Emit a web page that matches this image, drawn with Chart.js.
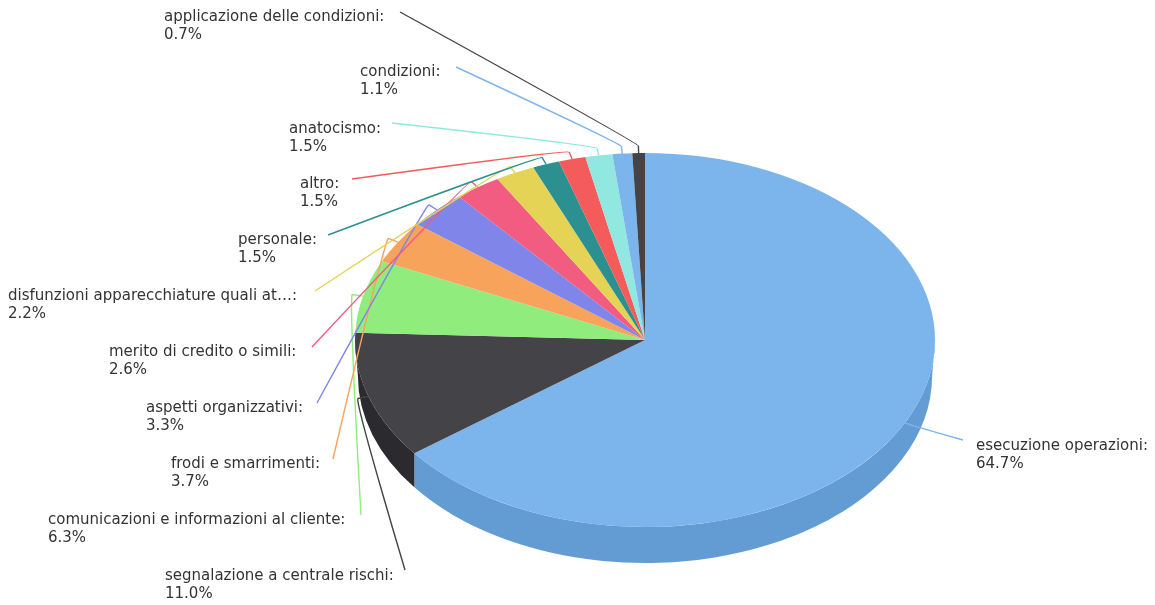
<!DOCTYPE html>
<html lang="it">
<head>
<meta charset="utf-8">
<title>Ripartizione dei ricorsi per argomento</title>
<script src="https://cdn.jsdelivr.net/npm/chart.js@4"></script>
<style>
  html, body { margin: 0; padding: 0; background: #fff; }
  #wrap { width: 1155px; height: 605px; position: relative; }
</style>
</head>
<body>
<div id="wrap"><canvas id="pie"></canvas></div>
<script>
// Slices, clockwise from twelve o'clock
const categories = [
  "esecuzione operazioni",
  "segnalazione a centrale rischi",
  "comunicazioni e informazioni al cliente",
  "frodi e smarrimenti",
  "aspetti organizzativi",
  "merito di credito o simili",
  "disfunzioni apparecchiature quali at\u2026",
  "personale",
  "altro",
  "anatocismo",
  "condizioni",
  "applicazione delle condizioni"
];
const shares = [64.7, 11.0, 6.3, 3.7, 3.3, 2.6, 2.2, 1.5, 1.5, 1.5, 1.1, 0.7];
const sliceColors = [
  "#7cb5ec", "#434348", "#90ed7d", "#f7a35c", "#8085e9", "#f15c80",
  "#e4d354", "#2b908f", "#f45b5b", "#91e8e1", "#7cb5ec", "#434348"
];
const wallColors = ["#639cd3", "#2a2a2f"];

// Label placement: text origin and the far end of each connector
const labelLeft = [976, 165, 48, 171, 146, 109, 8, 238, 300, 289, 360, 164];
const labelTop = [446, 576, 520, 464, 408, 352, 296, 240, 184, 129, 72, 17];
const connectorEndX = [963, 405, 361, 333, 317, 312, 315, 328, 352, 392, 456, 400];
const connectorEndY = [440, 570, 515, 459, 403, 347, 291, 235, 179, 123, 67, 12];

// Tilted disc: the pie is squashed vertically and moved down, with a wall below it
const TILT = 187 / 290;
const DISC_CENTER_Y = 340;
const DEPTH = 36;
const FAR_RIM = 0.99;
const CONNECTOR_OUT = 11;
const CONNECTOR_PULL = 0.4;

function discPoint(arc, angle, radius) {
  return {
    x: arc.x + Math.cos(angle) * radius,
    y: DISC_CENTER_Y + Math.sin(angle) * radius * TILT
  };
}

// Angle on the narrower lower rim that sits directly beneath an angle on the top rim
function lowerRimAngle(angle) {
  return Math.acos(Math.max(-1, Math.min(1, Math.cos(angle) / FAR_RIM)));
}

const tiltedDisc = {
  id: "tiltedDisc",
  beforeDatasetsDraw(chart) {
    const ctx = chart.ctx;
    const arcs = chart.getDatasetMeta(0).data;

    // Outer wall: only the part of each slice on the near side of the disc
    arcs.forEach((arc, i) => {
      const from = Math.max(arc.startAngle, 0);
      const to = Math.min(arc.endAngle, Math.PI);
      if (to <= from || i >= wallColors.length) return;
      const rx = arc.outerRadius, ry = rx * TILT;
      ctx.save();
      ctx.fillStyle = wallColors[i];
      ctx.beginPath();
      ctx.ellipse(arc.x, DISC_CENTER_Y, rx, ry, 0, from, to);
      ctx.ellipse(arc.x, DISC_CENTER_Y + DEPTH, rx * FAR_RIM, ry, 0,
        lowerRimAngle(to), lowerRimAngle(from), true);
      ctx.closePath();
      ctx.fill();
      ctx.restore();
    });

    // Top face goes through the squashing transform
    const first = arcs[0];
    ctx.save();
    ctx.translate(first.x, DISC_CENTER_Y);
    ctx.scale(1, TILT);
    ctx.translate(-first.x, -first.y);
  },
  afterDatasetsDraw(chart) {
    const ctx = chart.ctx;
    ctx.restore();

    const arcs = chart.getDatasetMeta(0).data;
    arcs.forEach((arc, i) => {
      const mid = (arc.startAngle + arc.endAngle) / 2;
      const edge = discPoint(arc, mid, arc.outerRadius);
      const bend = discPoint(arc, mid, arc.outerRadius + CONNECTOR_OUT);
      const ex = connectorEndX[i], ey = connectorEndY[i];

      // Soft connector: curve in from the label, then a short straight tick to the rim
      ctx.save();
      ctx.strokeStyle = sliceColors[i];
      ctx.lineWidth = 1.4;
      ctx.beginPath();
      ctx.moveTo(ex, ey);
      ctx.bezierCurveTo(ex, ey,
        bend.x + (bend.x - edge.x) * CONNECTOR_PULL,
        bend.y + (bend.y - edge.y) * CONNECTOR_PULL,
        bend.x, bend.y);
      ctx.lineTo(edge.x, edge.y);
      ctx.stroke();
      ctx.restore();

      ctx.save();
      ctx.font = "15px 'DejaVu Sans'";
      ctx.fillStyle = "#333333";
      ctx.textBaseline = "middle";
      ctx.textAlign = "left";
      ctx.fillText(categories[i] + ":", labelLeft[i], labelTop[i]);
      ctx.fillText(shares[i].toFixed(1) + "%", labelLeft[i], labelTop[i] + 18.6);
      ctx.restore();
    });
  }
};

new Chart(document.getElementById("pie"), {
  type: "pie",
  data: {
    labels: categories,
    datasets: [{ data: shares, backgroundColor: sliceColors, borderWidth: 0, hoverOffset: 0 }]
  },
  options: {
    responsive: true,
    maintainAspectRatio: false,
    animation: false,
    events: [],
    layout: { padding: { left: 355, right: 220, top: 12.5, bottom: 12.5 } },
    plugins: { legend: { display: false }, tooltip: { enabled: false } }
  },
  plugins: [tiltedDisc]
});
</script>
</body>
</html>
